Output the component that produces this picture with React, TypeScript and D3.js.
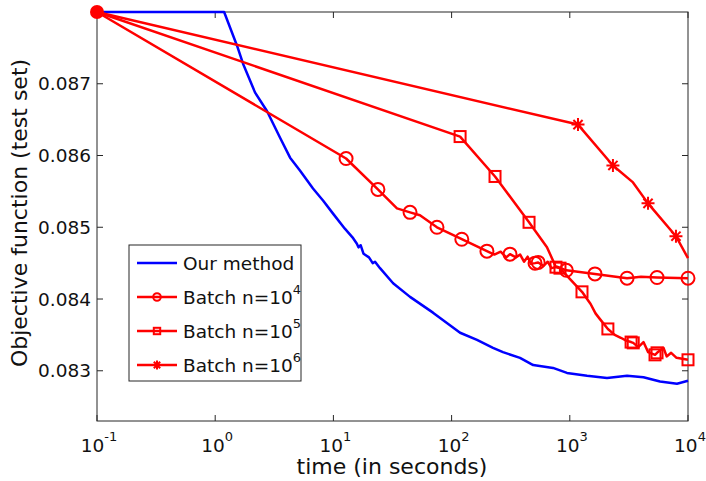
import React, { useEffect, useRef } from "react";
import * as d3 from "d3";

// tick labels
const xTicks = [0.1, 1, 10, 100, 1000, 10000];
const xTickExp = ["-1", "0", "1", "2", "3", "4"];
const yTicks = [0.083, 0.084, 0.085, 0.086, 0.087];

// Our method
const ourTime = [0.1, 1.19, 1.53, 1.72, 2.17, 2.74, 3.53, 4.3, 5.21, 6.72, 8.2, 9.93, 12.5, 14.5, 15.8, 16.3, 17.0, 18.0, 20, 21.5, 22.5, 24.8, 32, 44.5, 69.6, 118, 164, 224, 272, 379, 490, 721, 946, 1400, 2065, 3050, 4200, 5800, 8070, 10000];
const ourValue = [0.088, 0.088, 0.08753, 0.08728, 0.08688, 0.08662, 0.08625, 0.08597, 0.08579, 0.08554, 0.08537, 0.08519, 0.08498, 0.08486, 0.08477, 0.08472, 0.08475, 0.08463, 0.08458, 0.0845, 0.08452, 0.08443, 0.08422, 0.08403, 0.08381, 0.08353, 0.08343, 0.08332, 0.08326, 0.08318, 0.08308, 0.08304, 0.08297, 0.08293, 0.0829, 0.08293, 0.08291, 0.08285, 0.08282, 0.08286];

// Batch n=10^4
const batch4Time = [0.1, 12.8, 23.8, 34.5, 44.5, 54, 75.2, 122, 199, 230, 260, 290, 312, 350, 380, 410, 440, 470, 508, 540, 600, 650, 700, 780, 935, 1633, 3050, 4000, 5470, 10000];
const batch4Value = [0.088, 0.085958, 0.085528, 0.085264, 0.085208, 0.085167, 0.085, 0.084833, 0.084667, 0.08462, 0.08466, 0.08458, 0.084625, 0.08458, 0.08462, 0.08452, 0.08459, 0.08449, 0.0845, 0.08451, 0.08446, 0.08452, 0.08443, 0.08445, 0.0844, 0.08435, 0.08429, 0.08431, 0.0843, 0.08429];
const batch4MarkTime = [12.8, 23.8, 44.5, 75.2, 122, 199, 312, 508, 540, 935, 1633, 3050, 5470, 10000];
const batch4MarkValue = [0.085958, 0.085528, 0.085208, 0.085, 0.084833, 0.084667, 0.084625, 0.0845, 0.08451, 0.0844, 0.08435, 0.08429, 0.0843, 0.08429];

// Batch n=10^5
const batch5Time = [0.1, 118, 233, 452, 641, 764, 826, 1000, 1268, 1500, 1650, 1800, 2100, 2400, 2700, 3000, 3300, 3440, 3800, 4200, 4600, 5260, 5470, 6200, 6600, 7200, 8000, 10000];
const batch5Value = [0.088, 0.086264, 0.085708, 0.085069, 0.084722, 0.084444, 0.08443, 0.08428, 0.0841, 0.08393, 0.0838, 0.08372, 0.083583, 0.0835, 0.08346, 0.08342, 0.0834, 0.083389, 0.08333, 0.0834, 0.08326, 0.083222, 0.08325, 0.08332, 0.0832, 0.08325, 0.08318, 0.083153];
const batch5MarkTime = [118, 233, 452, 764, 826, 1268, 2100, 3300, 3440, 5260, 5470, 10000];
const batch5MarkValue = [0.086264, 0.085708, 0.085069, 0.084444, 0.08443, 0.0841, 0.083583, 0.0834, 0.083389, 0.083222, 0.08325, 0.083153];

// Batch n=10^6
const batch6Time = [0.1, 1173, 2317, 3425, 4590, 7910, 10000];
const batch6Value = [0.088, 0.086431, 0.085861, 0.085625, 0.085333, 0.084875, 0.084569];
const batch6MarkTime = [1173, 2317, 4590, 7910];
const batch6MarkValue = [0.086431, 0.085861, 0.085333, 0.084875];

const legendLabels = ["Our method", "Batch n=10", "Batch n=10", "Batch n=10"];
const legendExp = ["", "4", "5", "6"];

const FONT = "'DejaVu Sans', sans-serif";

function star(r: number) {
  const d = r * Math.SQRT1_2;
  return `M${-r},0L${r},0M0,${-r}L0,${r}M${-d},${-d}L${d},${d}M${-d},${d}L${d},${-d}`;
}

function drawMarker(g: any, kind: string, cx: number, cy: number, s: number) {
  if (kind === "circle") {
    g.append("circle").attr("cx", cx).attr("cy", cy).attr("r", s)
      .attr("fill", "none").attr("stroke", "red").attr("stroke-width", 2);
  } else if (kind === "square") {
    g.append("rect").attr("x", cx - s).attr("y", cy - s).attr("width", 2 * s).attr("height", 2 * s)
      .attr("fill", "none").attr("stroke", "red").attr("stroke-width", 2);
  } else if (kind === "star") {
    g.append("path").attr("d", star(s)).attr("transform", `translate(${cx},${cy})`)
      .attr("fill", "none").attr("stroke", "red").attr("stroke-width", 2);
  }
}

export default function App() {
  const ref = useRef<SVGSVGElement>(null);

  useEffect(() => {
    const svg = d3.select(ref.current);
    svg.selectAll("*").remove();

    const left = 97, right = 688, top = 12, bottom = 421;
    const x = d3.scaleLog().domain([0.1, 10000]).range([left, right]);
    const y = d3.scaleLinear().domain([0.0823, 0.088]).range([bottom, top]);

    const line = d3.line<[number, number]>()
      .x(d => x(d[0]))
      .y(d => y(d[1]));

    const zip = (a: number[], b: number[]) => a.map((t, i) => [t, b[i]] as [number, number]);

    // box
    svg.append("rect")
      .attr("x", left).attr("y", top).attr("width", right - left).attr("height", bottom - top)
      .attr("fill", "white").attr("stroke", "#262626").attr("stroke-width", 1);

    // ticks, inside on all sides
    const tk = svg.append("g").attr("stroke", "#262626").attr("stroke-width", 1);
    xTicks.forEach(t => {
      tk.append("line").attr("x1", x(t)).attr("x2", x(t)).attr("y1", bottom).attr("y2", bottom - 6);
      tk.append("line").attr("x1", x(t)).attr("x2", x(t)).attr("y1", top).attr("y2", top + 6);
    });
    yTicks.forEach(v => {
      tk.append("line").attr("x1", left).attr("x2", left + 6).attr("y1", y(v)).attr("y2", y(v));
      tk.append("line").attr("x1", right).attr("x2", right - 6).attr("y1", y(v)).attr("y2", y(v));
    });

    // tick labels
    svg.selectAll(".xt").data(xTicks).join("text")
      .attr("class", "xt")
      .attr("x", d => x(d) + 2).attr("y", 452)
      .attr("text-anchor", "middle")
      .attr("font-family", FONT).attr("font-size", 18.5).attr("fill", "#111")
      .each(function (d, i) {
        const t = d3.select(this);
        t.append("tspan").text("10");
        t.append("tspan").attr("dy", -11).attr("font-size", 13).text(xTickExp[i]);
      });

    svg.selectAll(".yt").data(yTicks).join("text")
      .attr("class", "yt")
      .attr("x", 91).attr("y", d => y(d)).attr("dy", "0.36em")
      .attr("text-anchor", "end")
      .attr("font-family", FONT).attr("font-size", 18.5).attr("fill", "#111")
      .text(d => d.toFixed(3));

    // axis titles
    svg.append("text")
      .attr("x", 392).attr("y", 474).attr("text-anchor", "middle")
      .attr("font-family", FONT).attr("font-size", 22).attr("fill", "#111")
      .text("time (in seconds)");
    svg.append("text")
      .attr("transform", "translate(27,213) rotate(-90)").attr("text-anchor", "middle")
      .attr("font-family", FONT).attr("font-size", 22).attr("fill", "#111")
      .text("Objective function (test set)");

    // lines
    svg.append("path").attr("d", line(zip(ourTime, ourValue)))
      .attr("fill", "none").attr("stroke", "blue").attr("stroke-width", 2.5).attr("stroke-linejoin", "round");

    const series = [
      { t: batch4Time, v: batch4Value, mt: batch4MarkTime, mv: batch4MarkValue, kind: "circle", s: 6.5 },
      { t: batch5Time, v: batch5Value, mt: batch5MarkTime, mv: batch5MarkValue, kind: "square", s: 5.5 },
      { t: batch6Time, v: batch6Value, mt: batch6MarkTime, mv: batch6MarkValue, kind: "star", s: 6.5 },
    ];
    series.forEach(sr => {
      svg.append("path").attr("d", line(zip(sr.t, sr.v)))
        .attr("fill", "none").attr("stroke", "red").attr("stroke-width", 2.5).attr("stroke-linejoin", "round");
      const mg = svg.append("g");
      sr.mt.forEach((t, i) => drawMarker(mg, sr.kind, x(t), y(sr.mv[i]), sr.s));
    });

    // start point shared by the batch runs
    svg.append("circle")
      .attr("cx", x(batch4Time[0])).attr("cy", y(batch4Value[0])).attr("r", 7)
      .attr("fill", "red");

    // legend
    const lg = svg.append("g");
    lg.append("rect").attr("x", 129).attr("y", 245).attr("width", 172).attr("height", 136)
      .attr("fill", "white").attr("stroke", "#262626").attr("stroke-width", 1);
    const kinds = ["", "circle", "square", "star"];
    const sizes = [0, 3.8, 3.2, 4.5];
    legendLabels.forEach((lab, i) => {
      const cy = 263 + i * 34;
      lg.append("line").attr("x1", 137).attr("x2", 177).attr("y1", cy).attr("y2", cy)
        .attr("stroke", i === 0 ? "blue" : "red").attr("stroke-width", 2.5);
      if (kinds[i]) drawMarker(lg, kinds[i], 157, cy, sizes[i]);
      const tx = lg.append("text").attr("x", 183).attr("y", cy).attr("dy", "0.36em")
        .attr("font-family", FONT).attr("font-size", 18.5).attr("fill", "#111");
      tx.append("tspan").text(lab);
      if (legendExp[i]) tx.append("tspan").attr("dy", -10).attr("font-size", 13).text(legendExp[i]);
    });
  }, []);

  return (
    <svg ref={ref} width={706} height={481}
      style={{ position: "absolute", left: 0, top: 0, background: "white" }} />
  );
}
